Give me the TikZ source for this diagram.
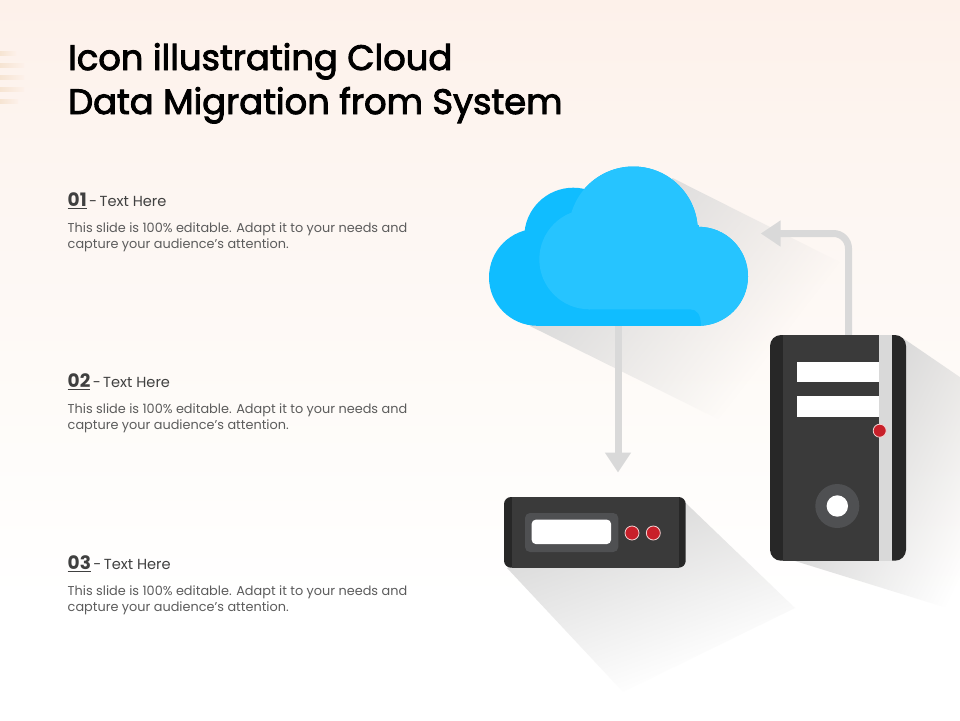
\documentclass[tikz,border=0pt]{standalone}
\usepackage{fontspec}
\setmainfont{Poppins}
\newfontfamily\titlefont[FakeBold=2.6]{Poppins}
\usetikzlibrary{arrows.meta,fadings,shadings}
\definecolor{bgtop}{HTML}{FDF1EA}
\definecolor{bgA}{HTML}{FDF6F2}
\definecolor{bgB}{HTML}{FEFBF8}
\definecolor{stripe}{HTML}{F6E4D2}
\definecolor{cloudA}{HTML}{10BDFF}
\definecolor{cloudB}{HTML}{26C4FF}
\definecolor{conn}{HTML}{D9D9D9}
\definecolor{caseDark}{HTML}{272727}
\definecolor{caseMain}{HTML}{3A3A3A}
\definecolor{caseRing}{HTML}{4F5052}
\definecolor{led}{HTML}{C8202A}
\definecolor{ledRing}{HTML}{F3D5D5}
\definecolor{head}{HTML}{404040}
\definecolor{body}{HTML}{5C5C5C}
\tikzfading[name=shadowfade, left color=transparent!0, right color=transparent!100]
\tikzset{
  titletext/.style={anchor=base west,inner sep=0pt,font=\fontsize{35.3}{36}\titlefont,text=black},
  headtext/.style={anchor=base west,inner sep=0pt,text=head,font=\fontsize{14.6}{15}\selectfont},
  bodytext/.style={anchor=base west,inner sep=0pt,text=body,font=\fontsize{12.85}{13}\selectfont},
  connector/.style={draw=conn,line width=7pt,-{Triangle[length=20pt,width=25pt]}},
  ledlight/.style={fill=led,draw=ledRing,line width=0.8pt},
  casebox/.style={fill=caseDark,inner sep=0pt,draw=none},
}
\newcommand{\headline}[1]{\underline{\fontsize{18.5}{18}\selectfont\bfseries #1}\,-\,Text Here}
\begin{document}
\begin{tikzpicture}[x=1pt,y=-1pt]
\useasboundingbox (0,0) rectangle (960,720);
% background
\fill[white] (0,0) rectangle (960,720);
\fill[top color=bgtop,bottom color=bgA] (0,0) rectangle (960,200);
\fill[top color=bgA,bottom color=bgB] (0,200) rectangle (960,400);
\fill[top color=bgB,bottom color=white] (0,400) rectangle (960,600);
% left stripes
\foreach \yy/\ww in {53/16,65/24,77/24,89/24,101/18}
  \fill[left color=stripe,right color=bgtop] (0,\yy-2) rectangle (\ww,\yy+2);
% long shadows
\fill[black!14,path fading=shadowfade,fit fading=false,fading transform={shift={(693,283)},rotate=-38,scale=4.14}]
  (673,178) -- (840,262) -- (720,420) -- (530,326) -- cycle;
\fill[black!15,path fading=shadowfade,fit fading=false,fading transform={shift={(916,483)},rotate=-26,scale=3.2}]
  (903,338) -- (960,377) -- (960,612) -- (795,561) -- cycle;
\fill[black!14,path fading=shadowfade,fit fading=false,fading transform={shift={(622,606)},rotate=-70,scale=3.4}]
  (685.7,503) -- (795,608) -- (623,692) -- (507,568) -- cycle;
% named anchors
\node[minimum width=259pt,minimum height=160pt,inner sep=0pt] (cloud) at (618,246) {};
\coordinate (cloudIn) at (760.7,233.5);
\coordinate (towerOut) at (848.5,335);
\coordinate (serverIn) at (618,472.5);
% connectors
\draw[connector] (cloud.south) -- (serverIn);
\draw[connector,rounded corners=15pt] (towerOut) |- (cloudIn);
% cloud
\fill[cloudA] (537.5,277.3) circle[radius=48.5pt] (573.3,236.7) circle[radius=49pt]
  (633.3,231) circle[radius=64.5pt] (698.5,276.3) circle[radius=49.5pt];
\fill[cloudA] (536,240) rectangle (698.5,325.8);
\fill[cloudB] (633.3,231) circle[radius=64.5pt] (698.5,276.3) circle[radius=49.5pt]
  (589.3,259.3) circle[radius=50pt];
\fill[cloudB] (589.3,225) rectangle (698.5,310);
\fill[cloudA] (589.3,309.3) -- (690,309.3) .. controls (697,309.3) and (701,315) .. (701,325.8) -- (589.3,325.8) -- cycle;
% tower
\node[casebox,rounded corners=11pt,minimum width=136pt,minimum height=225.7pt] (tower) at (838,447.85) {};
\fill[caseMain] (783.3,335) rectangle (879,560.7);
\fill[conn] (879,335) rectangle (892,560.7);
\fill[white] (797,362) rectangle (879,382);
\fill[white] (797,396) rectangle (879,417);
\filldraw[ledlight] (879.7,430.7) circle[radius=6.5pt];
\fill[caseRing] (837.3,506) circle[radius=22pt];
\fill[white] (837.3,506) circle[radius=10.7pt];
% server
\node[casebox,rounded corners=7pt,minimum width=181.7pt,minimum height=70.7pt] (server) at (594.85,532.35) {};
\fill[caseMain] (512,497) rectangle (679,567.7);
\fill[caseRing,rounded corners=5pt] (525,513) rectangle (618.3,552);
\fill[white,rounded corners=4pt] (531.7,519.7) rectangle (611,544);
\filldraw[ledlight] (632,533) circle[radius=7pt];
\filldraw[ledlight] (653.3,533) circle[radius=7pt];
% title
\node[titletext] (title1) at (68,70) {Icon illustrating Cloud};
\node[titletext] (title2) at (68,114) {Data Migration from System};
% items
\foreach \n/\yy in {01/0,02/181,03/363}{
  \node[headtext] (head\n) at (67.5,206.5+\yy) {\headline{\n}};
  \node[bodytext] (bodya\n) at (67.5,232+\yy) {This slide is 100\% editable. Adapt it to your needs and};
  \node[bodytext] (bodyb\n) at (67.5,248+\yy) {capture your audience's attention.};
}
\end{tikzpicture}
\end{document}
